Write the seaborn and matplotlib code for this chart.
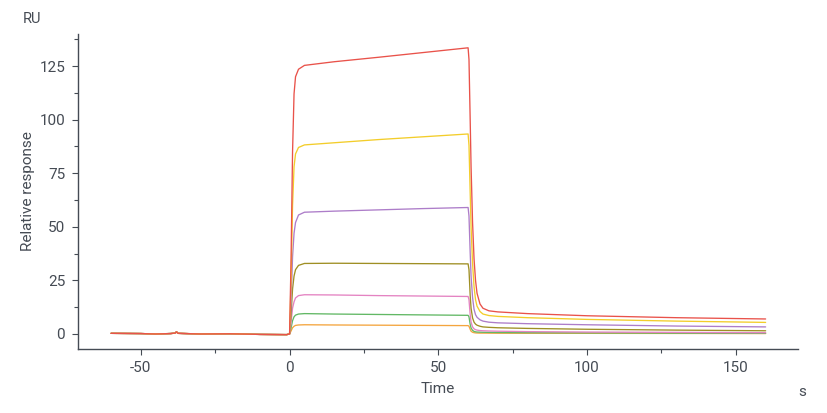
import matplotlib.pyplot as plt
import matplotlib.ticker as mticker
import pandas as pd
import seaborn as sns

# Time points (s)
TIME = [-60, -50, -45, -40, -38.5, -38, -37.5, -30, -20, -10, -1,
        0, 0.5, 1, 1.5, 2, 3, 5, 15, 30, 45,
        60, 60.3, 60.7, 61, 61.5, 62, 62.5, 63, 64, 65, 67, 70, 80, 100, 130, 160]

# shared pre-injection baseline (-60 .. -1 s)
BASELINE = [0.3, 0.2, 0.0, 0.2, 0.4, 1.0, 0.3, 0.0, 0.1, -0.2, -0.3]

# association (0 .. 45 s) and dissociation (60 .. 160 s) per curve
RED = BASELINE + [0, 35, 85, 112, 120, 123.5, 125.3, 127, 129.1, 131.3,
                  133.5, 128, 100, 78, 52, 35, 25, 19, 14, 12, 10.8, 10.3, 9.5, 8.5, 7.6, 7.0]
YELLOW = BASELINE + [0, 25, 60, 78, 84, 87.0, 88.2, 89.2, 90.7, 92.0,
                     93.3, 88, 66, 50, 33, 22, 16, 13, 10.5, 9.3, 8.6, 8.2, 7.6, 6.8, 6.0, 5.4]
PURPLE = BASELINE + [0, 15, 36, 47, 52, 55.5, 56.8, 57.3, 57.9, 58.5,
                     59.0, 55, 38, 27, 17, 11.5, 9.0, 7.8, 6.6, 6.0, 5.5, 5.2, 4.8, 4.3, 3.7, 3.3]
OLIVE = BASELINE + [0, 9, 21, 27, 30, 32.0, 32.9, 33.0, 32.9, 32.8,
                    32.7, 30, 18, 12, 7.5, 5.5, 4.6, 4.1, 3.6, 3.3, 3.1, 2.9, 2.6, 2.2, 1.8, 1.5]
PINK = BASELINE + [0, 5.5, 12, 15, 16.8, 17.9, 18.3, 18.2, 17.9, 17.7,
                   17.5, 16, 9, 5.5, 3.3, 2.4, 2.0, 1.8, 1.6, 1.5, 1.4, 1.3, 1.1, 0.9, 0.75, 0.6]
GREEN = BASELINE + [0, 2.8, 6.2, 8.0, 8.8, 9.3, 9.5, 9.3, 9.1, 8.9,
                    8.7, 8.0, 4.5, 2.8, 1.7, 1.2, 1.0, 0.9, 0.85, 0.8, 0.75, 0.7, 0.6, 0.5, 0.4, 0.35]
ORANGE = BASELINE + [0, 1.4, 2.9, 3.6, 4.0, 4.2, 4.3, 4.2, 4.1, 4.0,
                     3.9, 3.6, 2.2, 1.3, 0.8, 0.6, 0.5, 0.45, 0.4, 0.4, 0.38, 0.35, 0.32, 0.3, 0.25, 0.2]

CURVES = {
    "orange": ORANGE,
    "green": GREEN,
    "pink": PINK,
    "olive": OLIVE,
    "purple": PURPLE,
    "yellow": YELLOW,
    "red": RED,
}
PALETTE = {
    "orange": "#f4a53e",
    "green": "#62b865",
    "pink": "#e483c2",
    "olive": "#9f8f24",
    "purple": "#ad7dc9",
    "yellow": "#f3cd2a",
    "red": "#e9524a",
}

frames = [pd.DataFrame({"time": TIME, "response": vals, "curve": name})
          for name, vals in CURVES.items()]
df = pd.concat(frames, ignore_index=True)

sns.set_style("white")
plt.rcParams["font.family"] = ["Roboto", "DejaVu Sans"]
plt.rcParams["axes.unicode_minus"] = False
text_color = "#454b54"

fig = plt.figure(figsize=(8.27, 4.13), dpi=100)
ax = fig.add_axes([0.094, 0.155, 0.871, 0.763])

sns.lineplot(data=df, x="time", y="response", hue="curve", hue_order=list(CURVES),
             palette=PALETTE, estimator=None, sort=False, linewidth=0.95,
             legend=False, ax=ax)

ax.set_xlim(-71.2, 170.9)
ax.set_ylim(-7, 140)
ax.xaxis.set_major_locator(mticker.MultipleLocator(50))
ax.xaxis.set_minor_locator(mticker.MultipleLocator(25))
ax.yaxis.set_major_locator(mticker.MultipleLocator(25))
ax.yaxis.set_minor_locator(mticker.MultipleLocator(12.5))

for side in ["top", "right"]:
    ax.spines[side].set_visible(False)
for side in ["left", "bottom"]:
    ax.spines[side].set_color(text_color)
    ax.spines[side].set_linewidth(1.0)

ax.tick_params(axis="both", which="major", direction="out", length=4, width=0.8,
               color=text_color, labelcolor=text_color, labelsize=11, pad=5,
               bottom=True, left=True)
ax.tick_params(axis="both", which="minor", direction="out", length=3, width=0.8,
               color=text_color, bottom=True, left=True)

ax.set_xlabel("Time", fontsize=11, color=text_color, labelpad=5)
ax.set_ylabel("Relative response", fontsize=11, color=text_color, labelpad=3)
fig.text(0.027, 0.955, "RU", fontsize=10.5, color=text_color, ha="left", va="center")
fig.text(0.965, 0.052, "s", fontsize=11, color=text_color, ha="left", va="center")

fig.savefig("out.png", dpi=100)
